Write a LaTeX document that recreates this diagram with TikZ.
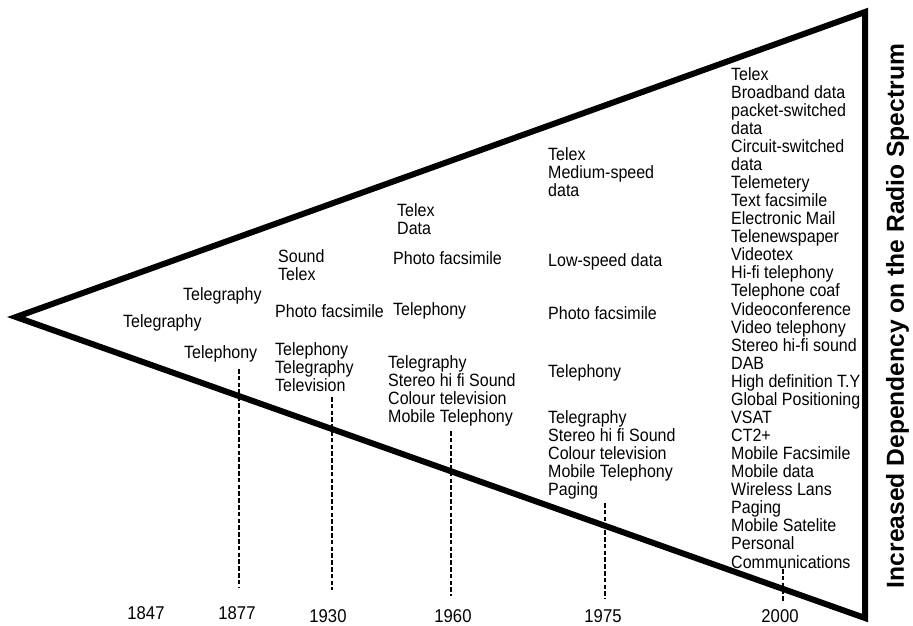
\documentclass[tikz,border=0pt]{standalone}
\usepackage{fontspec}
\setmainfont{Liberation Sans}[FakeStretch=0.9]
\newfontfamily\captionfamily{Liberation Sans}
\begin{document}
\begin{tikzpicture}[x=1pt,y=-1pt,
  item/.style={anchor=north west,align=left,inner sep=0pt,font=\fontsize{17.8}{18.07}\selectfont},
  year/.style={anchor=base,inner sep=0pt,font=\fontsize{18.5}{20}\selectfont},
  era/.style={line width=2.6pt,dash pattern=on 4.5pt off 2.3pt},
  wedge/.style={line width=6pt,line join=miter}]
\useasboundingbox (0,0) rectangle (913,625);

% the widening wedge
\coordinate (apex) at (16,317);
\coordinate (topc) at (865,12);
\coordinate (botc) at (865,618);
\draw[wedge] (apex) -- (topc) -- (botc) -- cycle;

% 1847
\node[item] (a1) at (123,314) {Telegraphy};
% 1877
\node[item] (b1) at (183,287) {Telegraphy};
\node[item] (b2) at (184,345) {Telephony};
% 1930
\node[item] (c1) at (278,249) {Sound\\Telex};
\node[item] (c2) at (275,304) {Photo facsimile};
\node[item] (c3) at (275,342) {Telephony\\Telegraphy\\Television};
% 1960
\node[item] (d1) at (397,203) {Telex\\Data};
\node[item] (d2) at (393,251) {Photo facsimile};
\node[item] (d3) at (393,302) {Telephony};
\node[item] (d4) at (388,355) {Telegraphy\\Stereo hi fi Sound\\Colour television\\Mobile Telephony};
% 1975
\node[item] (e1) at (548,147) {Telex\\Medium-speed\\data};
\node[item] (e2) at (548,253) {Low-speed data};
\node[item] (e3) at (548,306) {Photo facsimile};
\node[item] (e4) at (548,364) {Telephony};
\node[item] (e5) at (548,410) {Telegraphy\\Stereo hi fi Sound\\Colour television\\Mobile Telephony\\Paging};
% 2000
\node[item] (f1) at (731,67) {Telex\\Broadband data\\packet-switched\\data\\Circuit-switched\\data\\Telemetery\\Text facsimile\\Electronic Mail\\Telenewspaper\\Videotex\\Hi-fi telephony\\Telephone coaf\\Videoconference\\Video telephony\\Stereo hi-fi sound\\DAB\\High definition T.Y\\Global Positioning\\VSAT\\CT2+\\Mobile Facsimile\\Mobile data\\Wireless Lans\\Paging\\Mobile Satelite\\Personal\\Communications};

% year markers
\coordinate (m1877a) at (239,369); \coordinate (m1877b) at (239,588);
\coordinate (m1930a) at (332,397); \coordinate (m1930b) at (332,590);
\coordinate (m1960a) at (451,431); \coordinate (m1960b) at (451,596);
\coordinate (m1975a) at (605,503); \coordinate (m1975b) at (605,599);
\coordinate (m2000a) at (783,569); \coordinate (m2000b) at (783,602);
\draw[era] (m1877a) -- (m1877b);
\draw[era] (m1930a) -- (m1930b);
\draw[era] (m1960a) -- (m1960b);
\draw[era] (m1975a) -- (m1975b);
\draw[era] (m2000a) -- (m2000b);

\node[year] (y1847) at (146,619) {1847};
\node[year] (y1877) at (237,619) {1877};
\node[year] (y1930) at (328,622) {1930};
\node[year] (y1960) at (453,622) {1960};
\node[year] (y1975) at (603,622) {1975};
\node[year] (y2000) at (780,622) {2000};

% axis caption
\node[rotate=90,inner sep=0pt,font=\captionfamily\bfseries\fontsize{24.6}{28}\selectfont] (axis) at (897.5,316) {Increased Dependency on the Radio Spectrum};
\end{tikzpicture}
\end{document}
